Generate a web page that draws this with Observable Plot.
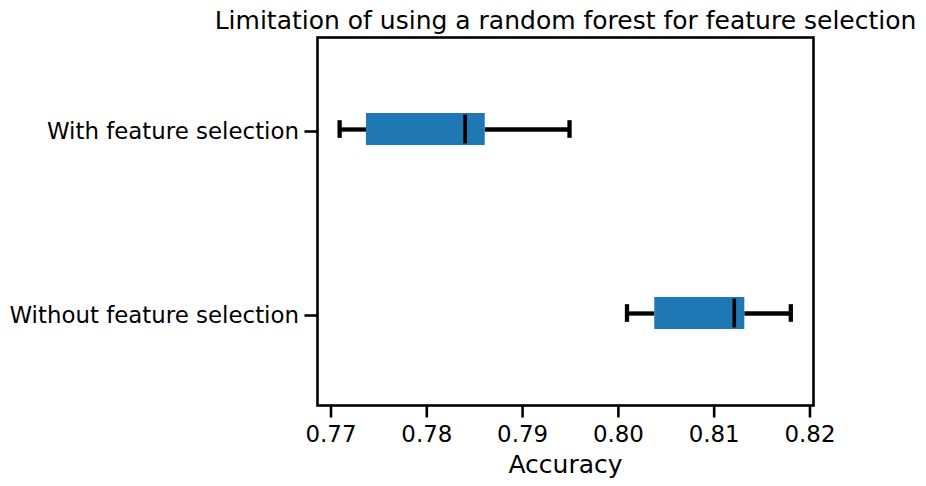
<!DOCTYPE html>
<html>
<head>
<meta charset="utf-8">
<script src="https://cdn.jsdelivr.net/npm/d3@7"></script>
<script src="https://cdn.jsdelivr.net/npm/@observablehq/plot@0.6"></script>
<style>
  html, body { margin: 0; padding: 0; background: #fff; }
  #chart svg { display: block; }
</style>
</head>
<body>
<div id="chart"></div>
<script>
const title = "Limitation of using a random forest for feature selection";
const xLabel = "Accuracy";
const categories = ["Without feature selection", "With feature selection"];
const positions = [1, 2];
const whiskerLow = [0.8009, 0.7709];
const q1 = [0.8038, 0.7737];
const median = [0.8121, 0.7840];
const q3 = [0.8132, 0.7861];
const whiskerHigh = [0.8180, 0.7949];
const xTicks = [0.77, 0.78, 0.79, 0.80, 0.81, 0.82];

const rows = categories.map((c, i) => ({
  cat: c, pos: positions[i], low: whiskerLow[i], q1: q1[i], med: median[i], q3: q3[i], high: whiskerHigh[i]
}));

const boxHalf = 0.087;
const capHalf = 0.048;
const font = "DejaVu Sans";

const chart = Plot.plot({
  width: 926,
  height: 486,
  marginLeft: 317,
  marginRight: 113,
  marginTop: 37,
  marginBottom: 81,
  style: { fontFamily: font, fontSize: "22.9px", color: "#000", background: "#fff" },
  x: { domain: [0.76859, 0.82037] },
  y: { domain: [0.5, 2.5] },
  marks: [
    Plot.axisX({ ticks: xTicks, tickFormat: d3.format(".2f"), tickSize: 12.5, tickPadding: 7.5, strokeWidth: 2.6, label: null, fontSize: 22.9 }),
    Plot.axisY({ ticks: positions, tickFormat: d => categories[positions.indexOf(d)], tickSize: 12.5, tickPadding: 6, strokeWidth: 2.6, label: null, fontSize: 22.9, dy: 2 }),
    // whiskers
    Plot.ruleY(rows, { y: "pos", x1: "low", x2: "q1", stroke: "#000", strokeWidth: 4.3 }),
    Plot.ruleY(rows, { y: "pos", x1: "q3", x2: "high", stroke: "#000", strokeWidth: 4.3 }),
    // caps
    Plot.ruleX(rows, { x: "low", y1: d => d.pos - capHalf, y2: d => d.pos + capHalf, stroke: "#000", strokeWidth: 4.3 }),
    Plot.ruleX(rows, { x: "high", y1: d => d.pos - capHalf, y2: d => d.pos + capHalf, stroke: "#000", strokeWidth: 4.3 }),
    // boxes
    Plot.rect(rows, { x1: "q1", x2: "q3", y1: d => d.pos - boxHalf, y2: d => d.pos + boxHalf, fill: "#1f77b4" }),
    // medians
    Plot.ruleX(rows, { x: "med", y1: d => d.pos - boxHalf * 0.9, y2: d => d.pos + boxHalf * 0.9, stroke: "#000", strokeWidth: 3.6 }),
    Plot.frame({ stroke: "#000", strokeWidth: 2.6 }),
    Plot.text([title], { frameAnchor: "top", lineAnchor: "bottom", dy: -8.3, fontSize: 25, fill: "#000" }),
    Plot.text([xLabel], { frameAnchor: "bottom", lineAnchor: "bottom", dy: 67, fontSize: 25, fill: "#000" })
  ]
});
document.getElementById("chart").appendChild(chart);
</script>
</body>
</html>
